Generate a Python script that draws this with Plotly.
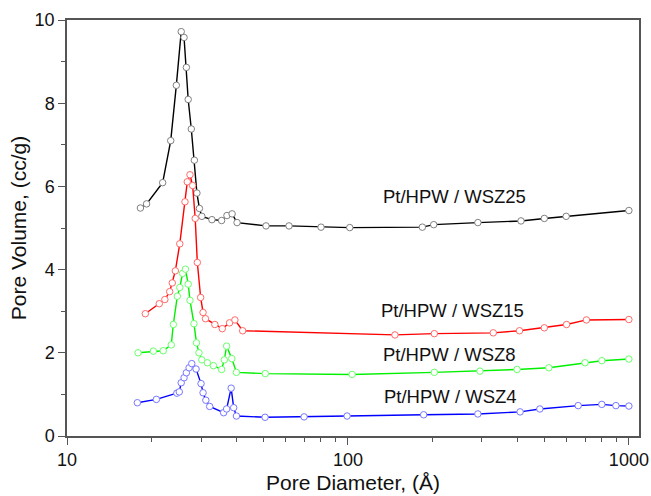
import math
import plotly.graph_objects as go

# ---- data ----
x_wsz25 = [18.25, 19.2, 21.9, 23.4, 24.5, 25.5, 26.1, 26.6, 27.0, 27.7, 28.4, 29.0, 29.6, 30.2,
           32.8, 35.5, 37.1, 38.7, 40.3, 51.1, 61.7, 80.2, 101.5, 184, 202, 290, 413, 500, 598, 1000]
y_wsz25 = [5.48, 5.58, 6.09, 7.10, 8.43, 9.72, 9.58, 8.86, 8.09, 7.38, 6.63, 5.84, 5.47, 5.28,
           5.20, 5.18, 5.30, 5.34, 5.13, 5.05, 5.05, 5.02, 5.01, 5.02, 5.08, 5.13, 5.17, 5.23, 5.28, 5.42]

x_wsz15 = [19.0, 21.3, 22.3, 23.2, 23.7, 24.3, 25.2, 26.3, 26.8, 27.4, 28.0, 28.6, 29.1, 29.9,
           30.5, 31.1, 33.6, 35.7, 37.9, 39.6, 42.2, 147, 203, 329, 408, 500, 600, 706, 1000]
y_wsz15 = [2.94, 3.18, 3.28, 3.47, 3.68, 3.97, 4.62, 5.63, 6.11, 6.28, 6.02, 5.23, 4.17, 3.33,
           2.97, 2.82, 2.68, 2.58, 2.72, 2.79, 2.53, 2.43, 2.46, 2.48, 2.53, 2.60, 2.68, 2.79, 2.80]

x_wsz8 = [17.9, 20.3, 22.0, 23.5, 23.9, 24.7, 25.2, 25.8, 26.4, 27.0, 27.4, 28.3, 28.9, 29.5,
          30.2, 31.6, 33.2, 35.5, 36.3, 37.0, 38.6, 40.1, 50.8, 103.5, 203, 295, 400, 519, 698, 801, 1000]
y_wsz8 = [2.00, 2.04, 2.05, 2.19, 2.68, 3.36, 3.57, 3.91, 4.01, 3.65, 3.26, 2.70, 2.24, 2.00,
          1.83, 1.76, 1.69, 1.60, 1.83, 2.16, 1.86, 1.53, 1.50, 1.48, 1.53, 1.56, 1.60, 1.64, 1.76, 1.81, 1.85]

x_wsz4 = [17.8, 20.8, 24.6, 25.1, 25.5, 26.1, 26.6, 27.2, 27.8, 28.8, 30.0, 30.5, 31.2, 32.2,
          36.1, 37.0, 38.4, 39.2, 40.1, 50.7, 69.8, 99.3, 186, 290, 410, 482, 660, 801, 899, 1000]
y_wsz4 = [0.80, 0.88, 1.03, 1.06, 1.28, 1.40, 1.52, 1.64, 1.74, 1.61, 1.26, 1.04, 0.86, 0.71,
          0.56, 0.65, 1.15, 0.68, 0.48, 0.45, 0.46, 0.48, 0.51, 0.53, 0.58, 0.65, 0.73, 0.76, 0.73, 0.72]

series_names = ["Pt/HPW / WSZ25", "Pt/HPW / WSZ15", "Pt/HPW / WSZ8", "Pt/HPW / WSZ4"]
label_x = [240, 236, 230, 232]
label_y = [5.76, 3.01, 1.96, 0.96]

x_major_ticks = [10, 100, 1000]
x_major_text = ["10", "100", "1000"]
x_minor_ticks = [20, 30, 40, 50, 60, 70, 80, 90, 200, 300, 400, 500, 600, 700, 800, 900]

# ---- styles ----
line_colors = ["#000000", "#ff0000", "#00f000", "#0000ff"]
marker_colors = ["#808080", "#ff6a6a", "#6aff6a", "#7878ff"]
FONT = "Arial, Liberation Sans, sans-serif"

fig = go.Figure()
data = [(x_wsz25, y_wsz25), (x_wsz15, y_wsz15), (x_wsz8, y_wsz8), (x_wsz4, y_wsz4)]
for (xs, ys), name, lc, mc in zip(data, series_names, line_colors, marker_colors):
    fig.add_trace(go.Scatter(
        x=xs, y=ys, name=name, mode="lines+markers",
        line=dict(color=lc, width=1.4),
        marker=dict(symbol="circle", size=6.5, color="white", line=dict(color=mc, width=1)),
        showlegend=False,
    ))

# annotations on a log axis take log10 positions
for name, lx, ly in zip(series_names, label_x, label_y):
    fig.add_annotation(x=math.log10(lx), y=ly, xref="x", yref="y", text=name, showarrow=False,
                       font=dict(family=FONT, size=18.5, color="#111111"))

axis_col = "#555555"
fig.update_layout(
    width=651, height=496,
    margin=dict(l=67, r=12, t=20, b=60),
    paper_bgcolor="white", plot_bgcolor="white",
    font=dict(family=FONT, size=18, color="#111111"),
    xaxis=dict(
        type="log", range=[1, 3.036],
        tickmode="array", tickvals=x_major_ticks, ticktext=x_major_text,
        ticks="outside", ticklen=7, tickwidth=1.3, tickcolor=axis_col,
        minor=dict(tickmode="array", tickvals=x_minor_ticks, ticks="outside",
                   ticklen=4, tickwidth=1.3, tickcolor=axis_col),
        showline=True, linecolor=axis_col, linewidth=1.5, mirror=True,
        showgrid=False, zeroline=False,
        title=dict(text="Pore Diameter, (Å)", font=dict(size=21), standoff=6),
        tickfont=dict(size=18),
        automargin=False,
    ),
    yaxis=dict(
        range=[0, 10], tickmode="linear", tick0=0, dtick=2,
        ticks="outside", ticklen=7, tickwidth=1.3, tickcolor=axis_col,
        minor=dict(dtick=1, ticks="outside", ticklen=4, tickwidth=1.3, tickcolor=axis_col),
        showline=True, linecolor=axis_col, linewidth=1.5, mirror=True,
        showgrid=False, zeroline=False,
        title=dict(text="Pore Volume, (cc/g)", font=dict(size=21), standoff=2),
        tickfont=dict(size=18),
        automargin=False,
    ),
)

fig.write_html("out.html",
               config={"displayModeBar": False},
               post_script="document.body.style.margin='0';document.body.style.overflow='hidden';")
